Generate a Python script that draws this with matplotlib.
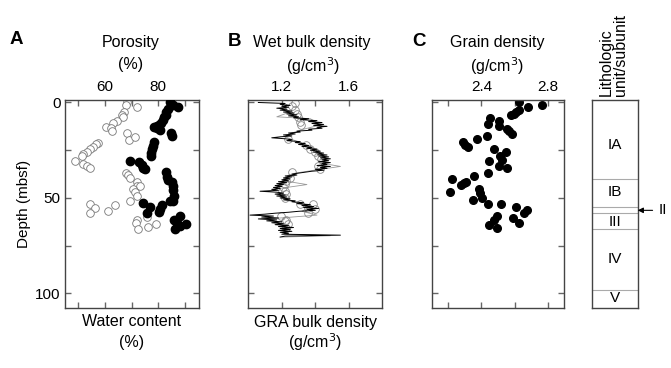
import numpy as np
import matplotlib
matplotlib.use("Agg")
import matplotlib.pyplot as plt

plt.rcParams['font.family'] = ['Liberation Sans', 'DejaVu Sans']

# Panel A: porosity (filled) and water content (open), depth in mbsf
por_depth = [0, 1.2, 2.5, 3.5, 5.1, 6.3, 7.7, 9.2, 10.6, 11.6, 12.3, 12.7, 13.6, 14.4,
             16.2, 17.6, 20.6, 22.7, 24.5, 26.3, 28.0, 30.6, 31.2, 32.9, 34.2, 34.7,
             36.4, 39.0, 40.5, 41.7, 44.0, 46.1, 48.8, 51.4, 51.4, 53.5, 55.8, 57.2,
             52.8, 54.9, 58.1, 59.3, 61.6, 62.9, 63.4, 64.6, 66.4]
por_val = [84.4, 85.6, 87.3, 83.8, 83.1, 82.8, 82.3, 81.6, 80.9, 80.1, 79.4, 78.5, 79.4, 80.6,
           84.8, 85.3, 78.5, 78.1, 77.8, 77.4, 77.1, 69.4, 72.9, 73.8, 74.4, 75.0,
           83.1, 83.4, 83.8, 85.0, 85.4, 85.6, 86.0, 85.4, 84.4, 81.5, 80.6, 80.4,
           74.1, 76.9, 75.6, 88.1, 85.9, 86.9, 90.6, 88.1, 86.3]

wc_depth = [0, 1.2, 2.6, 4.8, 6.5, 7.7, 9.5, 10.9, 12.7, 13.6, 14.8, 16.2, 19.4, 18.0,
            21.0, 22.0, 23.2, 24.6, 25.9, 27.1, 28.2, 30.6, 32.0, 33.5, 34.2,
            37.0, 38.2, 39.4, 41.7, 43.5, 44.0, 45.2, 47.0, 48.8, 51.8,
            53.2, 53.7, 55.5, 58.1, 56.7, 59.9, 61.6, 62.9, 65.1, 63.7, 66.4]
wc_val = [68.1, 67.9, 72.1, 67.1, 66.3, 66.6, 64.4, 63.1, 60.4, 62.3, 62.6, 68.4, 69.1, 71.3,
          57.5, 56.6, 55.6, 54.4, 53.1, 51.9, 51.3, 48.8, 51.6, 53.1, 54.4,
          67.9, 68.8, 69.4, 71.9, 72.1, 73.1, 70.6, 71.3, 71.9, 69.4,
          54.4, 63.8, 56.3, 54.4, 61.3, 75.6, 71.9, 71.6, 76.0, 79.0, 72.5]

# Panel B: GRA bulk density (every 0.5 m) and discrete wet bulk density
gra_depth = np.arange(0, 71, 0.5)
gra_val = [1.06, 1.22, 1.19, 1.25, 1.20, 1.24, 1.17, 1.23, 1.19, 1.26,
           1.21, 1.27, 1.23, 1.29, 1.24, 1.30, 1.27, 1.36, 1.31, 1.41,
           1.36, 1.44, 1.38, 1.45, 1.39, 1.47, 1.41, 1.44, 1.36, 1.38,
           1.29, 1.31, 1.24, 1.28, 1.21, 1.26, 1.19, 1.14, 1.22, 1.26,
           1.23, 1.31, 1.28, 1.34, 1.30, 1.36, 1.32, 1.38, 1.35, 1.41,
           1.37, 1.43, 1.39, 1.45, 1.41, 1.47, 1.42, 1.48, 1.43, 1.49,
           1.44, 1.48, 1.42, 1.49, 1.44, 1.47, 1.41, 1.49, 1.43, 1.47,
           1.40, 1.45, 1.38, 1.34, 1.30, 1.26, 1.29, 1.22, 1.26, 1.21,
           1.25, 1.20, 1.24, 1.18, 1.23, 1.17, 1.21, 1.16, 1.20, 1.15,
           1.19, 1.14, 1.18, 1.07, 1.17, 1.21, 1.16, 1.22, 1.17, 1.23,
           1.19, 1.25, 1.21, 1.28, 1.26, 1.33, 1.29, 1.37, 1.32, 1.39,
           1.33, 1.42, 1.35, 1.40, 1.30, 1.24, 1.16, 1.10, 1.01, 1.15,
           1.08, 1.18, 1.06, 1.17, 1.11, 1.20, 1.14, 1.21, 1.16, 1.24,
           1.18, 1.27, 1.19, 1.25, 1.18, 1.26, 1.19, 1.24, 1.20, 1.55,
           1.22, 1.19]

gra2_depth = [1, 3, 5, 7.5, 8.5, 10, 12, 14, 16, 18, 20, 22, 24, 26, 28, 30, 32, 33.5,
              35, 37, 39, 41, 43, 45, 47, 49, 51, 53, 55, 57, 59, 61, 63, 65, 67, 69, 69.8, 70.5]
gra2_val = [1.23, 1.22, 1.25, 1.17, 1.37, 1.40, 1.42, 1.33, 1.26, 1.22, 1.28, 1.34, 1.39,
            1.42, 1.45, 1.46, 1.45, 1.55, 1.43, 1.28, 1.23, 1.21, 1.35, 1.19, 1.18, 1.20,
            1.22, 1.31, 1.36, 1.32, 1.41, 1.12, 1.18, 1.22, 1.21, 1.23, 1.49, 1.20]

wbd_depth = [0.5, 1.9, 4.0, 5.8, 7.6, 10.2, 12.0, 19.0, 22.5, 24.3, 26.0, 27.8, 29.6,
             33.1, 34.9, 36.6, 39.3, 41.0, 42.8, 44.5, 46.3, 48.0, 49.8,
             53.3, 55.1, 53.3, 56.0, 57.7, 59.5, 61.3, 62.1, 63.9, 65.7]
wbd_val = [1.278, 1.258, 1.278, 1.292, 1.298, 1.307, 1.317, 1.238, 1.347, 1.367, 1.397,
           1.417, 1.437, 1.417, 1.427, 1.258, 1.248, 1.228, 1.218, 1.208, 1.218, 1.228,
           1.218, 1.307, 1.357, 1.387, 1.397, 1.357, 1.198, 1.228, 1.218, 1.238, 1.228]

# Panel C: grain density
gd_depth = [0, 1.1, 2.6, 3.7, 4.9, 5.8, 6.7, 7.9, 9.7, 11.1, 12.5, 14.1, 15.1, 16.4,
            17.8, 19.2, 20.8, 22.2, 23.4, 24.3, 25.7, 27.8, 30.5, 29.9, 33.1, 34.3,
            37.1, 38.7, 40.1, 41.4, 42.4, 43.3, 46.7, 45.1, 47.2, 49.8, 51.2, 53.0,
            53.3, 54.8, 56.5, 57.7, 59.5, 61.8, 60.7, 63.0, 64.4, 66.0]
gd_val = [2.628, 2.768, 2.684, 2.624, 2.608, 2.594, 2.578, 2.454, 2.504, 2.438, 2.504,
          2.554, 2.568, 2.584, 2.432, 2.372, 2.288, 2.298, 2.318, 2.478, 2.548, 2.514,
          2.444, 2.522, 2.508, 2.554, 2.438, 2.358, 2.222, 2.308, 2.292, 2.278, 2.208,
          2.384, 2.392, 2.404, 2.348, 2.438, 2.518, 2.608, 2.674, 2.658, 2.494, 2.474,
          2.588, 2.624, 2.444, 2.492]

# Lithologic units
unit_tops = [40, 55, 58, 66.3, 98]
unit_names = ['IA', 'IB', 'III', 'IV', 'V']
unit_label_depth = [22.5, 47, 62.5, 82, 102.5]

W, H = 671, 368
fig = plt.figure(figsize=(W / 100, H / 100), dpi=100)

def px_axes(x0, x1, y0=100, y1=307.7):
    return fig.add_axes([x0 / W, 1 - y1 / H, (x1 - x0) / W, (y1 - y0) / H])

spine_col = '#444444'

def style(ax, xlim, xticks, xlabels, ylabels=True):
    ax.set_ylim(107.5, -1.3)
    ax.set_xlim(*xlim)
    ax.set_xticks(xticks)
    ax.set_xticklabels(xlabels)
    ax.set_yticks([0, 25, 50, 75, 100])
    if ylabels:
        ax.set_yticklabels(['0', '', '50', '', '100'])
    else:
        ax.set_yticklabels([])
    ax.tick_params(direction='in', top=True, right=True, length=4, width=1,
                   color='#666666', labelsize=11, labelbottom=False, labeltop=True, pad=3)
    ax.tick_params(axis='x', pad=4)
    for s in ax.spines.values():
        s.set_color(spine_col)
        s.set_linewidth(1)

axA = px_axes(65, 199)
axA.plot(wc_val, wc_depth, 'o', ms=5.5, mfc='white', mec='#777777', mew=0.6, zorder=2)
axA.plot(por_val, por_depth, 'o', ms=6, color='black', zorder=3)
style(axA, (45, 95.3), [50, 60, 70, 80, 90], ['', '60', '', '80', ''])
axA.set_ylabel('Depth (mbsf)', fontsize=11, labelpad=3)

axB = px_axes(248.3, 382.3)
axB.plot(wbd_val, wbd_depth, 'o', ms=5.5, mfc='none', mec='#888888', mew=0.6, zorder=2)
axB.plot(gra2_val, gra2_depth, '-', color='#999999', lw=0.6, zorder=1)
axB.plot(gra_val, gra_depth, '-', color='black', lw=0.7, zorder=3)
style(axB, (1.0, 1.8), [1.2, 1.4, 1.6], ['1.2', '', '1.6'], ylabels=False)

axC = px_axes(431.7, 564.3)
axC.plot(gd_val, gd_depth, 'o', ms=5.5, color='black')
style(axC, (2.1, 2.9), [2.2, 2.4, 2.6, 2.8], ['', '2.4', '', '2.8'], ylabels=False)

axL = px_axes(592.3, 637.7)
axL.set_ylim(107.5, -1.3)
axL.set_xlim(0, 1)
axL.set_xticks([])
axL.set_yticks([])
for s in axL.spines.values():
    s.set_color(spine_col)
    s.set_linewidth(1)
for d in unit_tops:
    axL.axhline(d, color='#aaaaaa', lw=0.8)
for name, d in zip(unit_names, unit_label_depth):
    axL.text(0.5, d, name, ha='center', va='center', fontsize=11)
axL.annotate('II', xy=(1.0, 56.5), xytext=(1.45, 56.5), xycoords='data',
             textcoords='data', ha='left', va='center', fontsize=11,
             arrowprops=dict(arrowstyle='-|>', color='black', lw=0.8,
                             shrinkA=2, shrinkB=0, mutation_scale=8),
             annotation_clip=False)

# panel letters and titles
fs = 11.5
fig.text(10 / W, 1 - 39 / H, 'A', fontsize=13.5, fontweight='bold', va='center')
fig.text(228 / W, 1 - 41 / H, 'B', fontsize=13.5, fontweight='bold', va='center')
fig.text(412 / W, 1 - 41 / H, 'C', fontsize=13.5, fontweight='bold', va='center')
fig.text(131 / W, 1 - 43 / H, 'Porosity', fontsize=fs, ha='center', va='center')
fig.text(131 / W, 1 - 65 / H, '(%)', fontsize=fs, ha='center', va='center')
fig.text(312 / W, 1 - 43 / H, 'Wet bulk density', fontsize=fs, ha='center', va='center')
fig.text(313 / W, 1 - 66 / H, '(g/cm$^3$)', fontsize=fs, ha='center', va='center')
fig.text(497 / W, 1 - 43 / H, 'Grain density', fontsize=fs, ha='center', va='center')
fig.text(497 / W, 1 - 66 / H, '(g/cm$^3$)', fontsize=fs, ha='center', va='center')
fig.text(132 / W, 1 - 322 / H, 'Water content', fontsize=fs, ha='center', va='center')
fig.text(132 / W, 1 - 342 / H, '(%)', fontsize=fs, ha='center', va='center')
fig.text(315 / W, 1 - 322 / H, 'GRA bulk density', fontsize=fs, ha='center', va='center')
fig.text(315 / W, 1 - 342 / H, '(g/cm$^3$)', fontsize=fs, ha='center', va='center')
fig.text(613 / W, 1 - 96 / H, 'Lithologic\nunit/subunit', fontsize=fs, rotation=90,
         ha='center', va='bottom', multialignment='left', linespacing=0.95)

fig.savefig('out.png', dpi=100)
